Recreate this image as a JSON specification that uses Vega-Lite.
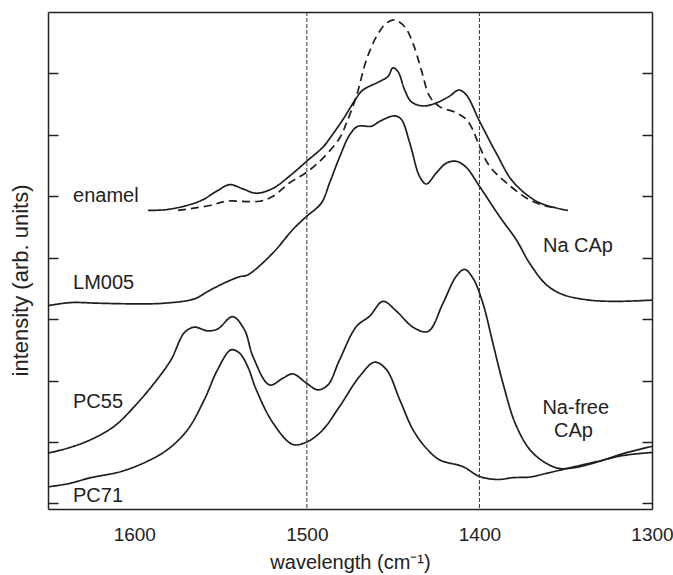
{
  "$schema": "https://vega.github.io/schema/vega-lite/v6.json",
  "width": 604,
  "height": 497,
  "autosize": {"type": "none"},
  "padding": {"left": 48, "top": 12, "right": 21, "bottom": 66},
  "background": "white",
  "config": {
    "view": {"stroke": null},
    "font": "Liberation Sans",
    "axis": {
      "grid": false,
      "domainColor": "#222222",
      "domainWidth": 1.5,
      "tickColor": "#222222",
      "tickWidth": 1.5,
      "labelFont": "Liberation Sans",
      "labelFontSize": 19,
      "labelColor": "#222222",
      "titleFont": "Liberation Sans",
      "titleFontSize": 20,
      "titleFontWeight": "normal",
      "titleColor": "#222222"
    }
  },
  "datasets": {
    "curves": [
      {"s": "enamel", "x": 1592.1, "y": 4.77}, {"s": "enamel", "x": 1579.5, "y": 4.79}, {"s": "enamel", "x": 1562.1, "y": 4.92}, {"s": "enamel", "x": 1552.4, "y": 5.08}, {"s": "enamel", "x": 1544.7, "y": 5.19}, {"s": "enamel", "x": 1537.0, "y": 5.12}, {"s": "enamel", "x": 1529.3, "y": 5.05}, {"s": "enamel", "x": 1519.6, "y": 5.13}, {"s": "enamel", "x": 1510.0, "y": 5.33}, {"s": "enamel", "x": 1499.7, "y": 5.58}, {"s": "enamel", "x": 1490.7, "y": 5.8}, {"s": "enamel", "x": 1486.8, "y": 5.94}, {"s": "enamel", "x": 1479.1, "y": 6.25}, {"s": "enamel", "x": 1471.3, "y": 6.6}, {"s": "enamel", "x": 1467.5, "y": 6.73}, {"s": "enamel", "x": 1457.8, "y": 6.87}, {"s": "enamel", "x": 1453.0, "y": 6.95}, {"s": "enamel", "x": 1450.1, "y": 7.09}, {"s": "enamel", "x": 1447.2, "y": 7.03}, {"s": "enamel", "x": 1443.3, "y": 6.73}, {"s": "enamel", "x": 1439.5, "y": 6.54}, {"s": "enamel", "x": 1432.7, "y": 6.47}, {"s": "enamel", "x": 1425.0, "y": 6.52}, {"s": "enamel", "x": 1417.3, "y": 6.63}, {"s": "enamel", "x": 1411.9, "y": 6.73}, {"s": "enamel", "x": 1407.6, "y": 6.65}, {"s": "enamel", "x": 1399.9, "y": 6.22}, {"s": "enamel", "x": 1390.2, "y": 5.7}, {"s": "enamel", "x": 1380.6, "y": 5.24}, {"s": "enamel", "x": 1367.0, "y": 4.92}, {"s": "enamel", "x": 1355.4, "y": 4.81}, {"s": "enamel", "x": 1348.7, "y": 4.77},
      {"s": "enamel-2", "x": 1574.7, "y": 4.77}, {"s": "enamel-2", "x": 1556.3, "y": 4.85}, {"s": "enamel-2", "x": 1546.6, "y": 4.92}, {"s": "enamel-2", "x": 1527.3, "y": 4.92}, {"s": "enamel-2", "x": 1519.6, "y": 5.0}, {"s": "enamel-2", "x": 1510.0, "y": 5.22}, {"s": "enamel-2", "x": 1499.7, "y": 5.4}, {"s": "enamel-2", "x": 1490.7, "y": 5.62}, {"s": "enamel-2", "x": 1481.0, "y": 5.95}, {"s": "enamel-2", "x": 1477.1, "y": 6.19}, {"s": "enamel-2", "x": 1471.3, "y": 6.63}, {"s": "enamel-2", "x": 1465.5, "y": 7.22}, {"s": "enamel-2", "x": 1459.7, "y": 7.6}, {"s": "enamel-2", "x": 1453.9, "y": 7.82}, {"s": "enamel-2", "x": 1449.1, "y": 7.87}, {"s": "enamel-2", "x": 1443.3, "y": 7.76}, {"s": "enamel-2", "x": 1438.5, "y": 7.49}, {"s": "enamel-2", "x": 1433.7, "y": 7.06}, {"s": "enamel-2", "x": 1428.9, "y": 6.63}, {"s": "enamel-2", "x": 1423.1, "y": 6.46}, {"s": "enamel-2", "x": 1413.4, "y": 6.36}, {"s": "enamel-2", "x": 1407.6, "y": 6.25}, {"s": "enamel-2", "x": 1403.8, "y": 6.08}, {"s": "enamel-2", "x": 1399.9, "y": 5.81}, {"s": "enamel-2", "x": 1394.1, "y": 5.49}, {"s": "enamel-2", "x": 1384.4, "y": 5.22}, {"s": "enamel-2", "x": 1370.9, "y": 4.94}, {"s": "enamel-2", "x": 1361.2, "y": 4.84}, {"s": "enamel-2", "x": 1355.4, "y": 4.81},
      {"s": "LM005", "x": 1650, "y": 3.22}, {"s": "LM005", "x": 1636.7, "y": 3.27}, {"s": "LM005", "x": 1621.2, "y": 3.26}, {"s": "LM005", "x": 1601.9, "y": 3.25}, {"s": "LM005", "x": 1582.6, "y": 3.26}, {"s": "LM005", "x": 1565.2, "y": 3.33}, {"s": "LM005", "x": 1557.5, "y": 3.45}, {"s": "LM005", "x": 1547.8, "y": 3.59}, {"s": "LM005", "x": 1539.1, "y": 3.69}, {"s": "LM005", "x": 1534.3, "y": 3.72}, {"s": "LM005", "x": 1519.6, "y": 4.08}, {"s": "LM005", "x": 1508.1, "y": 4.46}, {"s": "LM005", "x": 1500.3, "y": 4.67}, {"s": "LM005", "x": 1491.6, "y": 4.89}, {"s": "LM005", "x": 1486.8, "y": 5.22}, {"s": "LM005", "x": 1481.0, "y": 5.64}, {"s": "LM005", "x": 1475.2, "y": 6.0}, {"s": "LM005", "x": 1470.4, "y": 6.14}, {"s": "LM005", "x": 1462.6, "y": 6.14}, {"s": "LM005", "x": 1457.8, "y": 6.22}, {"s": "LM005", "x": 1449.1, "y": 6.31}, {"s": "LM005", "x": 1445.2, "y": 6.25}, {"s": "LM005", "x": 1440.4, "y": 5.87}, {"s": "LM005", "x": 1434.6, "y": 5.32}, {"s": "LM005", "x": 1430.8, "y": 5.2}, {"s": "LM005", "x": 1425.0, "y": 5.38}, {"s": "LM005", "x": 1419.2, "y": 5.54}, {"s": "LM005", "x": 1413.4, "y": 5.57}, {"s": "LM005", "x": 1407.6, "y": 5.47}, {"s": "LM005", "x": 1399.9, "y": 5.16}, {"s": "LM005", "x": 1388.3, "y": 4.67}, {"s": "LM005", "x": 1378.6, "y": 4.29}, {"s": "LM005", "x": 1370.9, "y": 3.91}, {"s": "LM005", "x": 1361.2, "y": 3.56}, {"s": "LM005", "x": 1351.6, "y": 3.4}, {"s": "LM005", "x": 1336.2, "y": 3.31}, {"s": "LM005", "x": 1320.7, "y": 3.29}, {"s": "LM005", "x": 1300, "y": 3.31},
      {"s": "PC55", "x": 1650, "y": 0.82}, {"s": "PC55", "x": 1638.6, "y": 0.9}, {"s": "PC55", "x": 1625.1, "y": 1.04}, {"s": "PC55", "x": 1611.5, "y": 1.26}, {"s": "PC55", "x": 1599.9, "y": 1.58}, {"s": "PC55", "x": 1588.4, "y": 1.96}, {"s": "PC55", "x": 1578.7, "y": 2.34}, {"s": "PC55", "x": 1571.0, "y": 2.78}, {"s": "PC55", "x": 1565.2, "y": 2.87}, {"s": "PC55", "x": 1557.5, "y": 2.81}, {"s": "PC55", "x": 1551.7, "y": 2.84}, {"s": "PC55", "x": 1543.0, "y": 3.04}, {"s": "PC55", "x": 1536.2, "y": 2.83}, {"s": "PC55", "x": 1531.2, "y": 2.39}, {"s": "PC55", "x": 1521.6, "y": 1.93}, {"s": "PC55", "x": 1513.8, "y": 2.04}, {"s": "PC55", "x": 1508.1, "y": 2.11}, {"s": "PC55", "x": 1500.3, "y": 1.96}, {"s": "PC55", "x": 1493.6, "y": 1.85}, {"s": "PC55", "x": 1487.8, "y": 1.93}, {"s": "PC55", "x": 1481.0, "y": 2.34}, {"s": "PC55", "x": 1471.3, "y": 2.88}, {"s": "PC55", "x": 1463.6, "y": 3.05}, {"s": "PC55", "x": 1455.9, "y": 3.29}, {"s": "PC55", "x": 1448.1, "y": 3.13}, {"s": "PC55", "x": 1438.5, "y": 2.87}, {"s": "PC55", "x": 1429.8, "y": 2.8}, {"s": "PC55", "x": 1421.1, "y": 3.26}, {"s": "PC55", "x": 1413.4, "y": 3.7}, {"s": "PC55", "x": 1408.6, "y": 3.81}, {"s": "PC55", "x": 1403.8, "y": 3.67}, {"s": "PC55", "x": 1398.0, "y": 3.26}, {"s": "PC55", "x": 1392.2, "y": 2.61}, {"s": "PC55", "x": 1386.4, "y": 1.96}, {"s": "PC55", "x": 1378.6, "y": 1.26}, {"s": "PC55", "x": 1369.0, "y": 0.82}, {"s": "PC55", "x": 1355.4, "y": 0.58}, {"s": "PC55", "x": 1345.8, "y": 0.58}, {"s": "PC55", "x": 1332.3, "y": 0.67}, {"s": "PC55", "x": 1316.9, "y": 0.81}, {"s": "PC55", "x": 1300, "y": 0.93},
      {"s": "PC71", "x": 1650, "y": 0.27}, {"s": "PC71", "x": 1638.6, "y": 0.32}, {"s": "PC71", "x": 1625.1, "y": 0.42}, {"s": "PC71", "x": 1607.7, "y": 0.52}, {"s": "PC71", "x": 1592.2, "y": 0.69}, {"s": "PC71", "x": 1580.6, "y": 0.88}, {"s": "PC71", "x": 1569.1, "y": 1.2}, {"s": "PC71", "x": 1559.4, "y": 1.69}, {"s": "PC71", "x": 1551.7, "y": 2.18}, {"s": "PC71", "x": 1544.0, "y": 2.5}, {"s": "PC71", "x": 1539.1, "y": 2.45}, {"s": "PC71", "x": 1534.3, "y": 2.23}, {"s": "PC71", "x": 1529.3, "y": 1.85}, {"s": "PC71", "x": 1519.6, "y": 1.31}, {"s": "PC71", "x": 1508.1, "y": 0.96}, {"s": "PC71", "x": 1499.4, "y": 1.01}, {"s": "PC71", "x": 1490.7, "y": 1.2}, {"s": "PC71", "x": 1481.0, "y": 1.58}, {"s": "PC71", "x": 1469.4, "y": 2.07}, {"s": "PC71", "x": 1460.7, "y": 2.3}, {"s": "PC71", "x": 1453.9, "y": 2.18}, {"s": "PC71", "x": 1446.2, "y": 1.69}, {"s": "PC71", "x": 1438.5, "y": 1.2}, {"s": "PC71", "x": 1430.8, "y": 0.9}, {"s": "PC71", "x": 1423.1, "y": 0.71}, {"s": "PC71", "x": 1409.6, "y": 0.6}, {"s": "PC71", "x": 1399.9, "y": 0.44}, {"s": "PC71", "x": 1389.3, "y": 0.39}, {"s": "PC71", "x": 1380.6, "y": 0.42}, {"s": "PC71", "x": 1370.9, "y": 0.43}, {"s": "PC71", "x": 1361.2, "y": 0.49}, {"s": "PC71", "x": 1347.7, "y": 0.58}, {"s": "PC71", "x": 1332.3, "y": 0.68}, {"s": "PC71", "x": 1316.9, "y": 0.78}, {"s": "PC71", "x": 1300, "y": 0.83}
    ],
    "refs": [{"x": 1500}, {"x": 1400}],
    "labels": [
      {"t": "enamel", "x": 1635.5, "y": 4.91},
      {"t": "LM005", "x": 1635.5, "y": 3.49},
      {"t": "PC55", "x": 1635.5, "y": 1.55},
      {"t": "PC71", "x": 1635.5, "y": 0.02},
      {"t": "Na CAp", "x": 1363.2, "y": 4.1},
      {"t": "Na-free", "x": 1363.5, "y": 1.45},
      {"t": "CAp", "x": 1356.8, "y": 1.09}
    ]
  },
  "resolve": {"axis": {"x": "independent", "y": "independent"}},
  "layer": [
    {
      "data": {"name": "curves"},
      "mark": {"type": "line", "interpolate": "catmull-rom", "strokeWidth": 1.7, "color": "#1e1e1e"},
      "encoding": {
        "x": {
          "field": "x", "type": "quantitative",
          "scale": {"domain": [1300, 1650], "reverse": true, "nice": false, "zero": false},
          "axis": {
            "orient": "bottom",
            "values": [1600, 1550, 1500, 1450, 1400, 1350, 1300],
            "format": "d",
            "labelExpr": "datum.value % 100 === 0 ? datum.label : ''",
            "labelFlush": false,
            "labelOverlap": false,
            "tickSize": 0,
            "labelPadding": 16,
            "title": "wavelength (cm⁻¹)",
            "titleFontSize": 20,
            "titlePadding": 8,
            "encode": {"ticks": {"update": {"y2": {"signal": "datum.value % 100 === 0 ? -10 : -6"}}}}
          }
        },
        "y": {
          "field": "y", "type": "quantitative",
          "scale": {"domain": [-0.09, 8], "nice": false, "zero": false},
          "axis": {
            "orient": "left",
            "values": [0, 1, 2, 3, 4, 5, 6, 7],
            "labels": false,
            "tickSize": -10,
            "title": "intensity (arb. units)",
            "titleFontSize": 22,
            "titlePadding": 15,
            "titleY": 268
          }
        },
        "detail": {"field": "s"},
        "strokeDash": {
          "field": "s", "type": "nominal",
          "scale": {"domain": ["enamel", "enamel-2", "LM005", "PC55", "PC71"], "range": [[1, 0], [8, 5], [1, 0], [1, 0], [1, 0]]},
          "legend": null
        }
      }
    },
    {
      "data": {"name": "refs"},
      "mark": {"type": "rule", "strokeDash": [4, 2], "strokeWidth": 1, "color": "#333333"},
      "encoding": {
        "x": {"field": "x", "type": "quantitative", "axis": null}
      }
    },
    {
      "data": {"name": "labels"},
      "mark": {"type": "text", "align": "left", "baseline": "alphabetic", "fontSize": 20, "font": "Liberation Sans", "color": "#222222"},
      "encoding": {
        "x": {
          "field": "x", "type": "quantitative",
          "axis": {
            "orient": "top",
            "values": [1600, 1550, 1500, 1450, 1400, 1350, 1300],
            "labels": false,
            "tickSize": 0,
            "title": null,
            "encode": {"ticks": {"update": {"y2": {"signal": "datum.value % 100 === 0 ? 10 : 6"}}}}
          }
        },
        "y": {
          "field": "y", "type": "quantitative",
          "axis": {
            "orient": "right",
            "values": [0, 1, 2, 3, 4, 5, 6, 7],
            "labels": false,
            "tickSize": -10,
            "title": null
          }
        },
        "text": {"field": "t"}
      }
    }
  ]
}
